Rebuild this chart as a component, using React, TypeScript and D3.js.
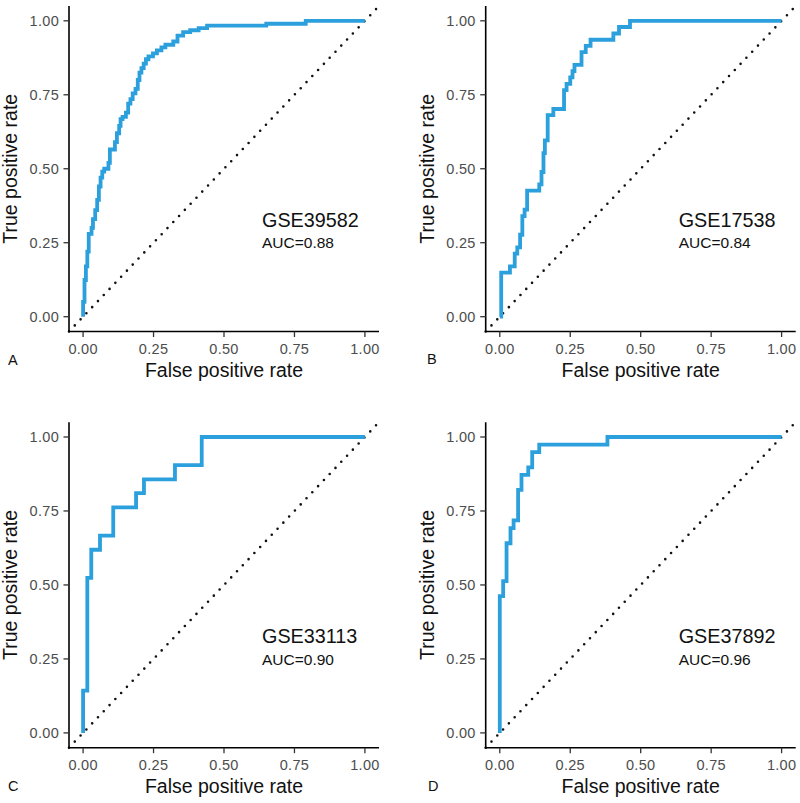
import React from "react";
import * as d3 from "d3";

// ---------- data ----------
const tickValues = [0, 0.25, 0.5, 0.75, 1];
const datasets = ["GSE39582", "GSE17538", "GSE33113", "GSE37892"];
const aucLabels = ["AUC=0.88", "AUC=0.84", "AUC=0.90", "AUC=0.96"];
const panelLetters = ["A", "B", "C", "D"];

const fprA = [0, 0, 0.005, 0.005, 0.01, 0.01, 0.015, 0.015, 0.02, 0.02, 0.03, 0.03, 0.035, 0.035, 0.043, 0.043, 0.05, 0.05, 0.056, 0.056, 0.062, 0.062, 0.068, 0.068, 0.075, 0.075, 0.09, 0.09, 0.095, 0.095, 0.113, 0.113, 0.12, 0.12, 0.128, 0.128, 0.133, 0.133, 0.14, 0.14, 0.152, 0.152, 0.16, 0.16, 0.168, 0.168, 0.176, 0.176, 0.186, 0.186, 0.194, 0.194, 0.2, 0.2, 0.207, 0.207, 0.215, 0.215, 0.223, 0.223, 0.232, 0.232, 0.248, 0.248, 0.262, 0.262, 0.278, 0.278, 0.292, 0.292, 0.32, 0.32, 0.335, 0.335, 0.355, 0.355, 0.38, 0.38, 0.41, 0.41, 0.44, 0.44, 0.65, 0.65, 0.79, 0.79, 1];
const tprA = [0, 0.05, 0.05, 0.124, 0.124, 0.17, 0.17, 0.22, 0.22, 0.28, 0.28, 0.3, 0.3, 0.33, 0.33, 0.36, 0.36, 0.395, 0.395, 0.44, 0.44, 0.47, 0.47, 0.49, 0.49, 0.5, 0.5, 0.52, 0.52, 0.565, 0.565, 0.59, 0.59, 0.62, 0.62, 0.645, 0.645, 0.668, 0.668, 0.675, 0.675, 0.69, 0.69, 0.72, 0.72, 0.735, 0.735, 0.755, 0.755, 0.77, 0.77, 0.8, 0.8, 0.825, 0.825, 0.84, 0.84, 0.855, 0.855, 0.87, 0.87, 0.88, 0.88, 0.89, 0.89, 0.9, 0.9, 0.91, 0.91, 0.919, 0.919, 0.93, 0.93, 0.95, 0.95, 0.962, 0.962, 0.968, 0.968, 0.975, 0.975, 0.984, 0.984, 0.99, 0.99, 1, 1];

const fprB = [0, 0.005, 0.005, 0.036, 0.036, 0.053, 0.053, 0.062, 0.062, 0.072, 0.072, 0.08, 0.08, 0.088, 0.088, 0.097, 0.097, 0.14, 0.14, 0.148, 0.148, 0.155, 0.155, 0.16, 0.16, 0.17, 0.17, 0.19, 0.19, 0.228, 0.228, 0.237, 0.237, 0.25, 0.25, 0.258, 0.258, 0.265, 0.265, 0.29, 0.29, 0.305, 0.305, 0.322, 0.322, 0.403, 0.403, 0.423, 0.423, 0.462, 0.462, 1];
const tprB = [0, 0, 0.149, 0.149, 0.17, 0.17, 0.213, 0.213, 0.234, 0.234, 0.277, 0.277, 0.34, 0.34, 0.362, 0.362, 0.426, 0.426, 0.447, 0.447, 0.489, 0.489, 0.553, 0.553, 0.596, 0.596, 0.681, 0.681, 0.702, 0.702, 0.766, 0.766, 0.787, 0.787, 0.809, 0.809, 0.83, 0.83, 0.851, 0.851, 0.894, 0.894, 0.915, 0.915, 0.936, 0.936, 0.957, 0.957, 0.979, 0.979, 1, 1];

const fprC = [0, 0, 0.015, 0.015, 0.029, 0.029, 0.06, 0.06, 0.107, 0.107, 0.188, 0.188, 0.216, 0.216, 0.326, 0.326, 0.421, 0.421, 1];
const tprC = [0, 0.143, 0.143, 0.524, 0.524, 0.619, 0.619, 0.667, 0.667, 0.762, 0.762, 0.81, 0.81, 0.857, 0.857, 0.905, 0.905, 1, 1];

const fprD = [0, 0, 0.012, 0.012, 0.024, 0.024, 0.038, 0.038, 0.049, 0.049, 0.065, 0.065, 0.077, 0.077, 0.101, 0.101, 0.115, 0.115, 0.14, 0.14, 0.382, 0.382, 1];
const tprD = [0, 0.462, 0.462, 0.513, 0.513, 0.641, 0.641, 0.692, 0.692, 0.718, 0.718, 0.821, 0.821, 0.872, 0.872, 0.897, 0.897, 0.949, 0.949, 0.974, 0.974, 1, 1];

const fprs = [fprA, fprB, fprC, fprD];
const tprs = [tprA, tprB, tprC, tprD];

// ---------- layout ----------
const PW = 310;
const PH = 325.5;
const layout = [
  { left: 69, top: 6, letterX: 8, letterY: 365 },
  { left: 485.7, top: 6, letterX: 427, letterY: 363.5 },
  { left: 69, top: 422.2, letterX: 8, letterY: 790.5 },
  { left: 485.7, top: 422.2, letterX: 428, letterY: 790.5 },
];

const FONT = "'Liberation Sans', Arial, Helvetica, sans-serif";
const CURVE = "#2C9FDD";

function Panel({ i }: { i: number }) {
  const { left, top, letterX, letterY } = layout[i];
  const bottom = top + PH;
  const x = d3.scaleLinear().domain([-0.05, 1.05]).range([left, left + PW]);
  const y = d3.scaleLinear().domain([-0.05, 1.05]).range([bottom, top]);
  const pts: [number, number][] = fprs[i].map((f, k) => [f, tprs[i][k]]);
  const line = d3
    .line<[number, number]>()
    .x((d) => x(d[0]))
    .y((d) => y(d[1]));
  const fmt = d3.format(".2f");
  return (
    <g>
      {/* diagonal reference */}
      <line
        x1={x(-0.05)}
        y1={y(-0.05)}
        x2={x(1.05)}
        y2={y(1.05)}
        stroke="#111"
        strokeWidth={2.6}
        strokeLinecap="round"
        strokeDasharray="0 8.4"
      />
      <path d={line(pts) || ""} fill="none" stroke={CURVE} strokeWidth={3.8} strokeLinejoin="miter" />
      {/* axes */}
      <line x1={left} y1={top} x2={left} y2={bottom} stroke="#000" strokeWidth={1.6} />
      <line x1={left - 0.8} y1={bottom} x2={left + PW} y2={bottom} stroke="#000" strokeWidth={1.6} />
      {tickValues.map((t) => (
        <g key={"y" + t}>
          <line x1={left - 5.5} x2={left} y1={y(t)} y2={y(t)} stroke="#333" strokeWidth={1.3} />
          <text
            x={left - 10}
            y={y(t) + 5}
            textAnchor="end"
            fontSize={14.5}
            letterSpacing={0.3}
            fill="#4D4D4D"
            fontFamily={FONT}
          >
            {fmt(t)}
          </text>
        </g>
      ))}
      {tickValues.map((t) => (
        <g key={"x" + t}>
          <line x1={x(t)} x2={x(t)} y1={bottom} y2={bottom + 5.5} stroke="#333" strokeWidth={1.3} />
          <text
            x={x(t)}
            y={bottom + 22}
            textAnchor="middle"
            fontSize={14.5}
            letterSpacing={0.3}
            fill="#4D4D4D"
            fontFamily={FONT}
          >
            {fmt(t)}
          </text>
        </g>
      ))}
      <text
        x={(x(0) + x(1)) / 2}
        y={bottom + 45}
        textAnchor="middle"
        fontSize={19.5}
        fill="#111"
        fontFamily={FONT}
      >
        False positive rate
      </text>
      <text
        transform={`translate(${left - 52},${(y(0) + y(1)) / 2}) rotate(-90)`}
        textAnchor="middle"
        fontSize={19.5}
        fill="#111"
        fontFamily={FONT}
      >
        True positive rate
      </text>
      <text x={x(0.635)} y={y(0.304)} fontSize={19.8} fill="#111" fontFamily={FONT}>
        {datasets[i]}
      </text>
      <text x={x(0.635)} y={y(0.304) + 21.6} fontSize={15.5} fill="#111" fontFamily={FONT}>
        {aucLabels[i]}
      </text>
      <text x={letterX} y={letterY} fontSize={14.5} fill="#111" fontFamily={FONT}>
        {panelLetters[i]}
      </text>
    </g>
  );
}

export default function App() {
  return (
    <svg
      width={800}
      height={803}
      style={{ position: "absolute", left: 0, top: 0, background: "#fff" }}
    >
      <rect width={800} height={803} fill="#fff" />
      {[0, 1, 2, 3].map((i) => (
        <Panel key={i} i={i} />
      ))}
    </svg>
  );
}
